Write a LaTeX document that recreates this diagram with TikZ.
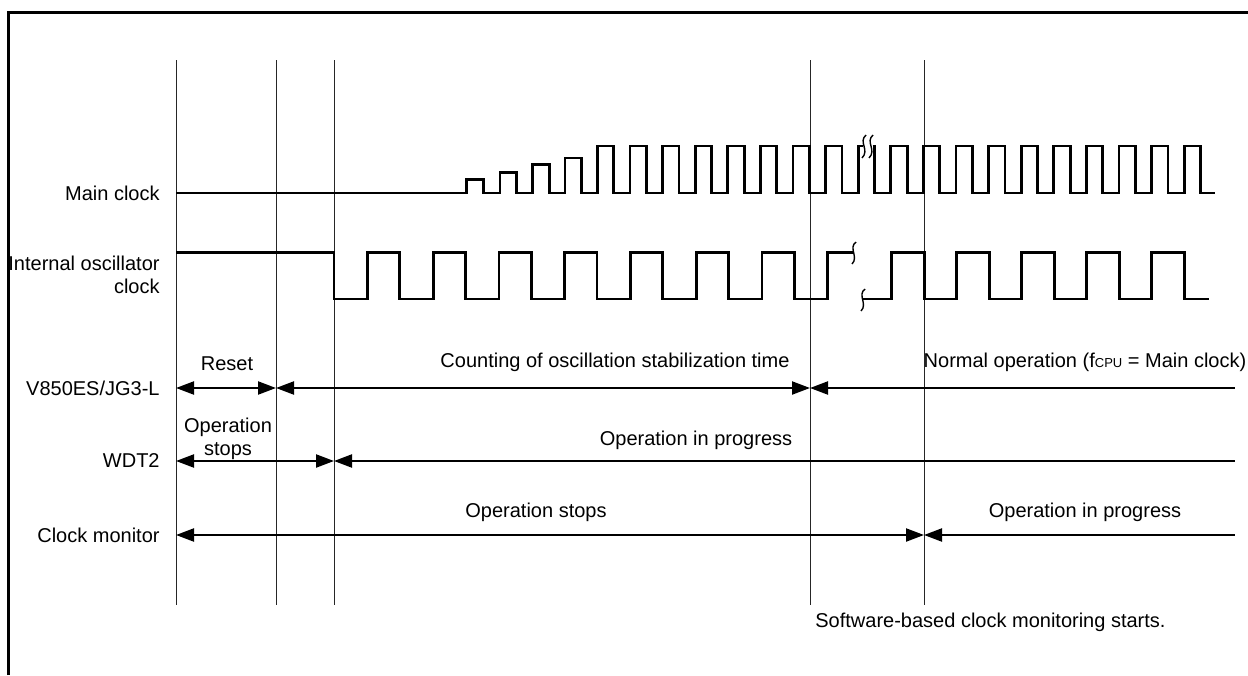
\documentclass[tikz,border=0pt]{standalone}
\usepackage{fontspec}
\setmainfont{Liberation Sans}
\usetikzlibrary{arrows.meta}

\begin{document}
\begin{tikzpicture}[x=0.5pt, y=-0.5pt,
  every node/.style={font=\fontsize{10}{11.5}\selectfont, inner sep=0pt},
  >={Triangle[length=9pt,width=6.5pt]},
  sig/.style={line width=1.4pt, line join=miter},
  grid/.style={line width=0.5pt, black!85},
  brk/.style={line width=0.7pt},
  timearr/.style={line width=1.1pt}]
\useasboundingbox (0,0) rectangle (1248,675);
% Frame
\draw[line width=1.5pt] (8.5,675) -- (8.5,12) -- (1248,12);
% Time marks
\foreach \x in {176,276,334,810,924} \draw[grid] (\x,60) -- (\x,605);
% Main clock
\node[anchor=east] (lmain) at (160,193) {Main clock};
\draw[sig] (176,193) -- (466.7,193)
  \foreach \x/\h in {466.7/179.3,500/172.3,532.3/164.7,565/158}{ -- (\x,193) -- (\x,\h) -- ({\x+16.8},\h) -- ({\x+16.8},193) }
  \foreach \k in {0,...,7}{ -- ({597.3+32.6*\k},193) -- ({597.3+32.6*\k},146) -- ({613.8+32.6*\k},146) -- ({613.8+32.6*\k},193) }
  -- (858.1,193) -- (858.1,146) -- (862.5,146);
\draw[sig] (872.5,146) -- (874.6,146) -- (874.6,193)
  \foreach \k in {9,...,18}{ -- ({597.3+32.6*\k},193) -- ({597.3+32.6*\k},146) -- ({613.8+32.6*\k},146) -- ({613.8+32.6*\k},193) }
  -- (1215,193);
\draw[brk] (866,135) .. controls (858,142) and (870,150) .. (862,158);
\draw[brk] (873,135) .. controls (865,142) and (877,150) .. (869,158);
% Internal oscillator clock
\node[anchor=east, align=right] (losc) at (160,274.5) {Internal oscillator\\clock};
\draw[sig] (176,252.7)
  \foreach \k in {0,...,7}{ -- ({334+65.75*\k},252.7) -- ({334+65.75*\k},299) -- ({367.5+65.75*\k},299) -- ({367.5+65.75*\k},252.7) }
  -- (853,252.7);
\draw[sig] (862,299)
  \foreach \k in {0,...,4}{ -- ({891.7+65*\k},299) -- ({891.7+65*\k},252.7) -- ({924.2+65*\k},252.7) -- ({924.2+65*\k},299) }
  -- (1209,299);
\draw[brk] (856,242) .. controls (848,248) and (859,257) .. (852,264);
\draw[brk] (865,289) .. controls (857,295) and (868,304) .. (861,311);
% V850ES/JG3-L
\node[anchor=east] (lcpu) at (160,388) {V850ES/JG3-L};
\coordinate (v1) at (176,388); \coordinate (v2) at (276,388); \coordinate (v3) at (810,388); \coordinate (v4) at (1235,388);
\draw[timearr, <->] (v1) -- (v2); \draw[timearr, <->] (v2) -- (v3); \draw[timearr, <-] (v3) -- (v4);
\node (treset) at (227,364) {Reset};
\node (tcount) at (615,362) {Counting of oscillation stabilization time};
\node (tnormal) at (1085,362) {Normal operation (f{\fontsize{6.5}{8}\selectfont CPU} = Main clock)};
% WDT2
\node[anchor=east] (lwdt) at (160,461) {WDT2};
\coordinate (w1) at (176,461); \coordinate (w2) at (334,461); \coordinate (w3) at (1235,461);
\draw[timearr, <->] (w1) -- (w2); \draw[timearr, <-] (w2) -- (w3);
\node[align=center] (twstop) at (228,439) {Operation\\stops};
\node (twrun) at (696,440) {Operation in progress};
% Clock monitor
\node[anchor=east] (lcm) at (160,535) {Clock monitor};
\coordinate (m1) at (176,535); \coordinate (m2) at (924,535); \coordinate (m3) at (1235,535);
\draw[timearr, <->] (m1) -- (m2); \draw[timearr, <-] (m2) -- (m3);
\node (tcstop) at (536,512) {Operation stops};
\node (tcrun) at (1085,512) {Operation in progress};
\node[anchor=west] (tsw) at (815,622) {Software-based clock monitoring starts.};
\end{tikzpicture}
\end{document}
